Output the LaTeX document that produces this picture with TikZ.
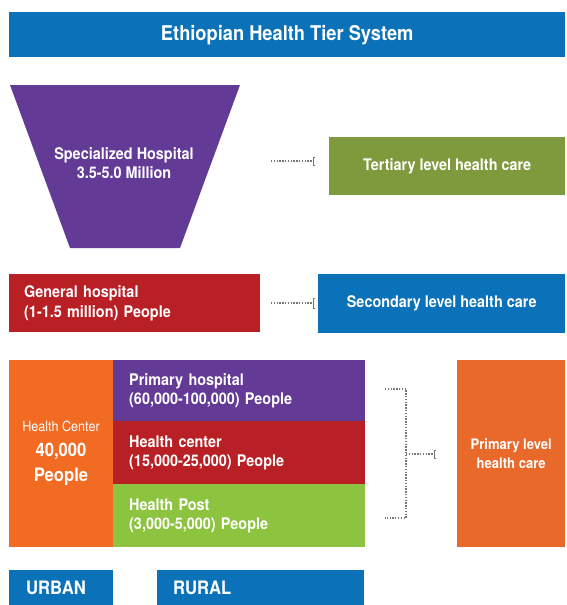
\documentclass[tikz,border=0pt]{standalone}
\usepackage{fontspec}
\setmainfont[FakeStretch=0.9]{TeX Gyre Heros}
\definecolor{tblue}{HTML}{0B72B9}
\definecolor{tpurple}{HTML}{643A97}
\definecolor{tolive}{HTML}{7E9A3C}
\definecolor{tred}{HTML}{B92025}
\definecolor{tgreen}{HTML}{8CC43F}
\definecolor{torangeL}{HTML}{F26B22}
\definecolor{torangeR}{HTML}{E8692A}
\definecolor{dotgray}{HTML}{777777}
\tikzset{
  box/.style={anchor=north west, inner sep=0pt, text=white, font=\bfseries\fontsize{16}{19.5}\selectfont},
  lbox/.style={box, align=left},
  cbox/.style={box, align=center},
  dots/.style={draw=dotgray, line width=1.1pt, dash pattern=on 1.3pt off 1.5pt},
  brk/.style={draw=dotgray, line width=0.9pt},
}
\begin{document}
\begin{tikzpicture}[x=1pt,y=-1pt]
\useasboundingbox (0,0) rectangle (566,605);
% title
\node[cbox, fill=tblue, minimum width=556pt, minimum height=45pt, font=\bfseries\fontsize{20.3}{24}\selectfont] (title) at (9,12) {Ethiopian Health Tier System};
% trapezoid
\fill[tpurple] (10,85) -- (240,85) -- (180,248) -- (70,248) -- cycle;
\node[box, anchor=center, align=center] (spec) at (124,163) {Specialized Hospital\\3.5-5.0 Million};
% tertiary
\node[cbox, fill=tolive, minimum width=236pt, minimum height=58pt] (tert) at (329,137) {Tertiary level health care};
% general hospital
\node[lbox, fill=tred, minimum width=251pt, minimum height=58pt, text width=251pt] (gen) at (9,274) {\hspace*{15pt}General hospital\\\hspace*{15pt}(1-1.5 million) People};
% secondary
\node[cbox, fill=tblue, minimum width=247pt, minimum height=59pt] (sec) at (318,274) {Secondary level health care};
% orange left
\node[cbox, fill=torangeL, minimum width=104pt, minimum height=187pt] (hc) at (9,360) {};
\node[anchor=center, align=center, text=white, inner sep=0pt, font=\bfseries\fontsize{18.5}{25}\selectfont] (hctext) at (61,453) {{\mdseries\fontsize{14}{16}\selectfont Health Center}\\40,000\\People};
% primary stack
\node[lbox, fill=tpurple, minimum width=252pt, minimum height=61pt, text width=252pt] (ph) at (113,360) {\hspace*{16pt}Primary hospital\\\hspace*{16pt}(60,000-100,000) People};
\node[lbox, fill=tred, minimum width=252pt, minimum height=63pt, text width=252pt] (hcr) at (113,421) {\hspace*{16pt}Health center\\\hspace*{16pt}(15,000-25,000) People};
\node[lbox, fill=tgreen, minimum width=252pt, minimum height=63pt, text width=252pt] (hp) at (113,484) {\hspace*{16pt}Health Post\\\hspace*{16pt}(3,000-5,000) People};
% primary level
\node[cbox, fill=torangeR, minimum width=108pt, minimum height=187pt, font=\bfseries\fontsize{14.5}{19.5}\selectfont] (plev) at (457,360) {Primary level\\health care};
% urban / rural
\node[lbox, fill=tblue, minimum width=104pt, minimum height=35pt, text width=104pt, font=\bfseries\fontsize{18.5}{22}\selectfont] (urban) at (9,570) {\hspace*{17pt}URBAN};
\node[lbox, fill=tblue, minimum width=207pt, minimum height=35pt, text width=207pt, font=\bfseries\fontsize{18.5}{22}\selectfont] (rural) at (157,570) {\hspace*{16pt}RURAL};
% connectors
\coordinate (t1) at (271,161); \coordinate (t2) at (313,161);
\draw[dots] (t1) -- (t2);
\draw[brk] ([xshift=2pt,yshift=-4pt]t2) -- ([yshift=-4pt]t2) -- ([yshift=4pt]t2) -- ([xshift=2pt,yshift=4pt]t2);
\coordinate (s1) at (271,303); \coordinate (s2) at (313,303);
\draw[dots] (s1) -- (s2);
\draw[brk] ([xshift=2pt,yshift=-5pt]s2) -- ([yshift=-5pt]s2) -- ([yshift=5pt]s2) -- ([xshift=2pt,yshift=5pt]s2);
\coordinate (b1) at (385,389); \coordinate (b2) at (406,389);
\coordinate (b3) at (406,518); \coordinate (b4) at (385,518);
\coordinate (m1) at (406,454); \coordinate (m2) at (434,454);
\draw[dots] (b1) -- (b2) -- (b3) -- (b4);
\draw[dots] (m1) -- (m2);
\draw[brk] ([xshift=2pt,yshift=-4pt]m2) -- ([yshift=-4pt]m2) -- ([yshift=4pt]m2) -- ([xshift=2pt,yshift=4pt]m2);
\end{tikzpicture}
\end{document}
